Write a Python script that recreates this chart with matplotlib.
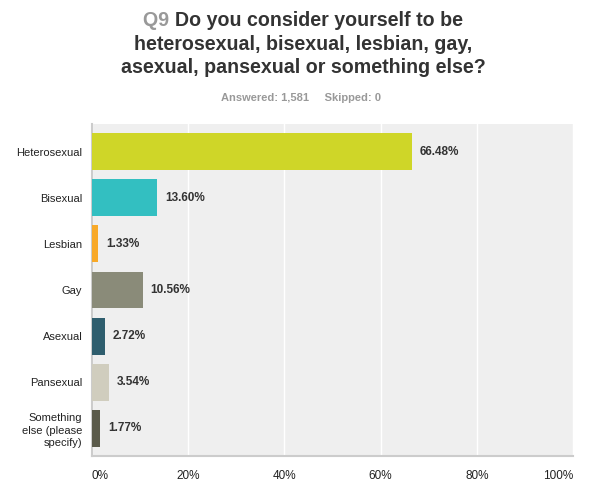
import matplotlib
matplotlib.use("Agg")
import matplotlib.pyplot as plt
import numpy as np

plt.rcParams['font.family'] = ['Liberation Sans', 'DejaVu Sans']

# DATA
categories = ['Heterosexual', 'Bisexual', 'Lesbian', 'Gay', 'Asexual',
              'Pansexual', 'Something\nelse (please\nspecify)']
values = [66.48, 13.60, 1.33, 10.56, 2.72, 3.54, 1.77]
colors = ['#CFD628', '#33BFC1', '#F8A928', '#8A8B79', '#2F5E6E',
          '#D0CDBE', '#5A5A4A']
xticks = [0, 20, 40, 60, 80, 100]

fig = plt.figure(figsize=(6.09, 4.97), dpi=100)
ax = fig.add_axes([0.151, 0.0825, 0.79, 0.668])
ax.set_facecolor('#EFEFEF')

y = np.arange(len(categories))
ax.barh(y, values, height=0.8, color=colors, zorder=3)
for yi, v in zip(y, values):
    ax.text(v + 1.6, yi, '%.2f%%' % v, va='center', ha='left',
            fontsize=8.5, fontweight='bold', color='#333333', zorder=4)

ax.set_xlim(0, 100)
ax.set_ylim(len(categories) - 0.4, -0.6)
ax.set_yticks(y)
ax.set_yticklabels(categories, fontsize=8, color='#222222', linespacing=1.3)
ax.set_xticks(xticks)
ax.set_xticklabels(['%d%%' % t for t in xticks], fontsize=8.5, color='#222222')
labels = ax.get_xticklabels()
labels[0].set_horizontalalignment('left')
labels[-1].set_horizontalalignment('right')
ax.tick_params(axis='both', length=0)
ax.tick_params(axis='x', pad=10)
ax.tick_params(axis='y', pad=7)
ax.grid(axis='x', color='white', linewidth=1.0, zorder=1)

for s in ['top', 'right']:
    ax.spines[s].set_visible(False)
ax.spines['left'].set_color('#CCCCCC')
ax.spines['bottom'].set_color('#CCCCCC')
ax.spines['left'].set_linewidth(1.5)
ax.spines['bottom'].set_linewidth(1.5)

# TITLE
tsize = 14.1
cx = 0.4975
full = fig.text(cx, 0.9467, 'Q9 Do you consider yourself to be', ha='center',
                va='baseline', fontsize=tsize, fontweight='bold', alpha=0)
fig.canvas.draw()
bb = full.get_window_extent()
x0 = bb.x0 / fig.bbox.width
q = fig.text(x0, 0.9467, 'Q9 ', ha='left', va='baseline', fontsize=tsize,
             fontweight='bold', color='#999999')
fig.canvas.draw()
qb = q.get_window_extent()
fig.text(qb.x1 / fig.bbox.width, 0.9467, 'Do you consider yourself to be',
         ha='left', va='baseline', fontsize=tsize, fontweight='bold',
         color='#333333')
fig.text(cx, 0.8994, 'heterosexual, bisexual, lesbian, gay,', ha='center',
         va='baseline', fontsize=tsize, fontweight='bold', color='#333333')
fig.text(cx, 0.853, 'asexual, pansexual or something else?', ha='center',
         va='baseline', fontsize=tsize, fontweight='bold', color='#333333')
fig.text(0.495, 0.797, 'Answered: 1,581     Skipped: 0', ha='center',
         va='baseline', fontsize=8, fontweight='bold', color='#999999')

fig.savefig('out.png', dpi=100)
